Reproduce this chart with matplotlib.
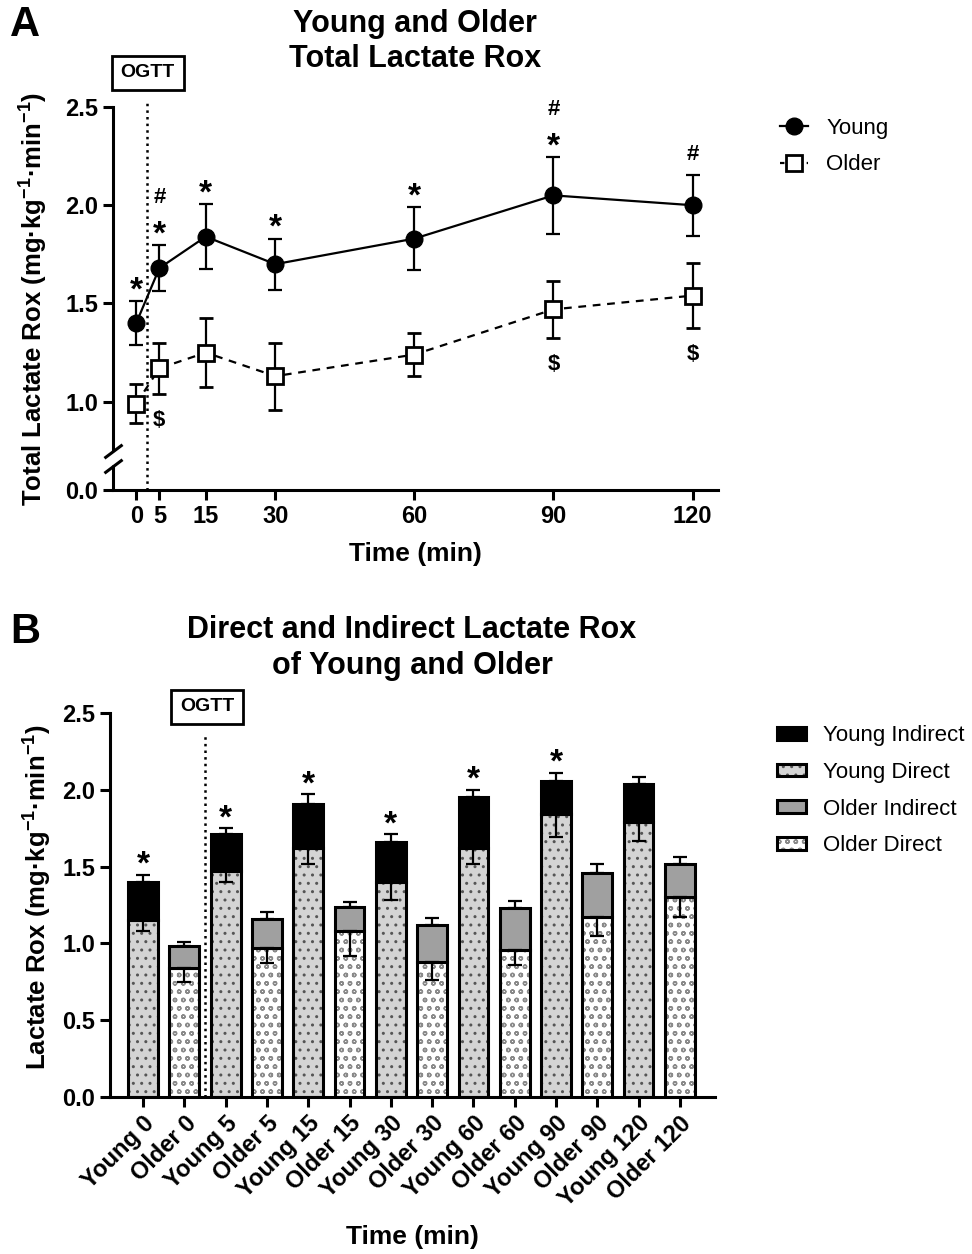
import numpy as np
import matplotlib
matplotlib.use('Agg')
import matplotlib.pyplot as plt
from matplotlib.patches import Patch
from matplotlib.lines import Line2D
from matplotlib.legend_handler import HandlerTuple
import matplotlib.transforms as mtransforms

plt.rcParams['font.family'] = ['Liberation Sans', 'DejaVu Sans']
plt.rcParams['mathtext.fontset'] = 'custom'
plt.rcParams['mathtext.rm'] = 'Liberation Sans:bold'
plt.rcParams['mathtext.bf'] = 'Liberation Sans:bold'
plt.rcParams['mathtext.default'] = 'bf'
plt.rcParams['hatch.linewidth'] = 1.0

# ---- panel A data: total lactate Rox ----
times = [0, 5, 15, 30, 60, 90, 120]
young_total = [1.40, 1.68, 1.84, 1.70, 1.83, 2.05, 2.00]
young_sem = [0.11, 0.115, 0.165, 0.13, 0.16, 0.195, 0.155]
older_total = [0.99, 1.17, 1.25, 1.13, 1.24, 1.47, 1.54]
older_sem = [0.10, 0.13, 0.175, 0.17, 0.11, 0.145, 0.167]
young_star = [1, 1, 1, 1, 1, 1, 0]
young_hash = [0, 1, 0, 0, 0, 1, 1]
older_dollar = [0, 1, 0, 0, 0, 1, 1]

# ---- panel B data: direct / indirect ----
bar_labels = ['Young 0', 'Older 0', 'Young 5', 'Older 5', 'Young 15', 'Older 15',
              'Young 30', 'Older 30', 'Young 60', 'Older 60', 'Young 90', 'Older 90',
              'Young 120', 'Older 120']
young_direct = [1.15, 1.47, 1.62, 1.40, 1.62, 1.84, 1.79]
young_indirect = [0.25, 0.24, 0.29, 0.26, 0.33, 0.22, 0.25]
young_total_err = [0.045, 0.04, 0.06, 0.05, 0.05, 0.05, 0.045]
young_direct_err = [0.07, 0.07, 0.10, 0.12, 0.10, 0.15, 0.12]
older_direct = [0.84, 0.97, 1.08, 0.88, 0.96, 1.17, 1.30]
older_indirect = [0.14, 0.19, 0.16, 0.24, 0.27, 0.29, 0.22]
older_total_err = [0.03, 0.045, 0.03, 0.045, 0.045, 0.055, 0.045]
older_direct_err = [0.09, 0.10, 0.16, 0.12, 0.10, 0.12, 0.13]
bar_star = [1, 1, 1, 1, 1, 1, 0]

LW = 2.2
PX = 72 / 100.0  # points per pixel
glyph_mid = {'*': 0.57, '#': 0.36, '$': 0.36}


def mark(ax, x, y, s, dy_px, fs):
    # place glyph so that its ink centre sits dy_px pixels from (x, y)
    off = dy_px * PX - glyph_mid[s] * fs
    ax.annotate(s, xy=(x, y), xytext=(0, off), textcoords='offset points',
                ha='center', va='baseline', fontsize=fs, fontweight='bold')


def style_axis(ax):
    for s in ['top', 'right']:
        ax.spines[s].set_visible(False)
    for s in ['left', 'bottom']:
        ax.spines[s].set_linewidth(LW)
    ax.tick_params(width=LW, length=7, labelsize=17)
    for lab in ax.get_xticklabels() + ax.get_yticklabels():
        lab.set_fontweight('bold')


fig = plt.figure(figsize=(9.72, 12.54), dpi=100)

# ================= Panel A =================
axA = fig.add_axes([0.1163, 0.6093, 0.6224, 0.3054])
f0, cut = 0.551, 0.75


def fwd(y):
    y = np.asarray(y, float)
    return np.where(y < cut, f0 + y * (cut - f0) / cut, y)


def inv(f):
    f = np.asarray(f, float)
    return np.where(f < cut, (f - f0) * cut / (cut - f0), f)


axA.set_yscale('function', functions=(fwd, inv))
axA.set_ylim(0, 2.5)
axA.set_xlim(-5, 125.5)
axA.set_yticks([0, 1.0, 1.5, 2.0, 2.5])
axA.set_yticklabels(['0.0', '1.0', '1.5', '2.0', '2.5'])
axA.yaxis.set_minor_locator(matplotlib.ticker.NullLocator())
axA.set_xticks(times)

axA.errorbar(times, young_total, yerr=young_sem, color='k', lw=1.6, marker='o', ms=12,
             elinewidth=1.6, capsize=5, capthick=1.6, zorder=3)
axA.errorbar(times, older_total, yerr=older_sem, color='k', lw=1.6, ls=(0, (3.5, 3)),
             marker='s', ms=11, mfc='white', mec='k', mew=2, elinewidth=1.6,
             capsize=5, capthick=1.6, zorder=3)

for t, v, e, s, h in zip(times, young_total, young_sem, young_star, young_hash):
    top = v + e
    if s:
        mark(axA, t, top, '*', 21, 24)
        if h:
            mark(axA, t, top, '#', 50, 16)
    elif h:
        mark(axA, t, top, '#', 23, 16)
for t, v, e, d in zip(times, older_total, older_sem, older_dollar):
    if d:
        mark(axA, t, v - e, '$', -24, 16)

# OGTT marker line and box
axA.plot([2.4, 2.4], [0, 2.53], ls=':', color='k', lw=1.8, clip_on=False, zorder=1)
trA = mtransforms.blended_transform_factory(axA.transData, axA.transAxes)
axA.text(2.5, 1.089, 'OGTT', transform=trA, ha='center', va='center', fontsize=14,
         fontweight='bold', bbox=dict(boxstyle='square,pad=0.45', fc='white', ec='k', lw=2))

style_axis(axA)
# broken y axis
axA.spines['left'].set_bounds(0.755, 2.5)
trY = mtransforms.blended_transform_factory(axA.transAxes, axA.transData)
axA.plot([0, 0], [0, 0.47], transform=trY, color='k', lw=LW, clip_on=False,
         solid_capstyle='butt')
axA.plot([0, 0], [0.75, 0.465], transform=trY, ls='none', marker=[(-1, -0.75), (1, 0.75)],
         ms=13, mec='k', mew=LW, clip_on=False)

axA.set_xlabel('Time (min)', fontsize=19, fontweight='bold')
axA.xaxis.set_label_coords(0.5, -0.135)
axA.set_ylabel('Total Lactate Rox (mg·kg$^{-1}$·min$^{-1}$)', fontsize=18.5, fontweight='bold')
axA.yaxis.set_label_coords(-0.105, 0.5)

handlesA = [Line2D([], [], color='k', lw=1.6, marker='o', ms=12),
            Line2D([], [], color='k', lw=1.6, ls=(0, (2, 2)), marker='s', ms=11,
                   mfc='white', mew=2)]
fig.legend(handlesA, ['Young', 'Older'], loc='upper left', bbox_to_anchor=(0.802, 0.906),
           frameon=False, fontsize=16, handlelength=1.3, handletextpad=0.8,
           labelspacing=0.7, borderpad=0, borderaxespad=0)

fig.text(0.0257, 0.980, 'A', fontsize=30, fontweight='bold', ha='center', va='center')
fig.text(415 / 972, 0.967, 'Young and Older\nTotal Lactate Rox', fontsize=22,
         fontweight='bold', ha='center', va='center', linespacing=1.25)

# ================= Panel B =================
axB = fig.add_axes([0.1132, 0.1252, 0.6224, 0.3062])
xs = np.arange(len(bar_labels))
xy_ = xs[0::2]
xo_ = xs[1::2]
w = 0.72
y_dir_c, y_dir_h = '#d4d4d4', '#555555'
o_dir_c, o_dir_h = 'white', '#8a8a8a'
o_ind_c = '#a0a0a0'

young_tot_b = np.add(young_direct, young_indirect)
older_tot_b = np.add(older_direct, older_indirect)

axB.bar(xy_, young_direct, w, color=y_dir_c, edgecolor=y_dir_h, lw=0, hatch='..', zorder=2)
axB.bar(xy_, young_direct, w, fill=False, edgecolor='k', lw=LW, zorder=2)
axB.bar(xy_, young_indirect, w, bottom=young_direct, color='k', edgecolor='k', lw=LW, zorder=2)
axB.bar(xo_, older_direct, w, color=o_dir_c, edgecolor=o_dir_h, lw=0, hatch='oo', zorder=2)
axB.bar(xo_, older_direct, w, fill=False, edgecolor='k', lw=LW, zorder=2)
axB.bar(xo_, older_indirect, w, bottom=older_direct, color=o_ind_c, edgecolor='k', lw=LW, zorder=2)

z7 = np.zeros(7)
eb = dict(fmt='none', ecolor='k', elinewidth=1.6, capsize=5, capthick=1.6, zorder=3)
axB.errorbar(xy_, young_tot_b, yerr=[z7, young_total_err], **eb)
axB.errorbar(xy_, young_direct, yerr=[young_direct_err, z7], **eb)
axB.errorbar(xo_, older_tot_b, yerr=[z7, older_total_err], **eb)
axB.errorbar(xo_, older_direct, yerr=[older_direct_err, z7], **eb)

for x, v, e, s in zip(xy_, young_tot_b, young_total_err, bar_star):
    if s:
        mark(axB, x, v + e, '*', 20, 24)

axB.plot([1.5, 1.5], [0, 2.37], ls=':', color='k', lw=1.8, zorder=1)
trB = mtransforms.blended_transform_factory(axB.transData, axB.transAxes)
axB.text(1.55, 1.016, 'OGTT', transform=trB, ha='center', va='center', fontsize=14,
         fontweight='bold', bbox=dict(boxstyle='square,pad=0.45', fc='white', ec='k', lw=2))

axB.set_xlim(-0.8, 13.85)
axB.set_ylim(0, 2.5)
axB.set_yticks([0, 0.5, 1.0, 1.5, 2.0, 2.5])
axB.set_yticklabels(['0.0', '0.5', '1.0', '1.5', '2.0', '2.5'])
axB.set_xticks(xs)
axB.set_xticklabels(bar_labels, rotation=45, ha='right', rotation_mode='anchor')
style_axis(axB)
axB.set_xlabel('Time (min)', fontsize=19, fontweight='bold')
axB.xaxis.set_label_coords(0.5, -0.333)
axB.set_ylabel('Lactate Rox (mg·kg$^{-1}$·min$^{-1}$)', fontsize=18.5, fontweight='bold')
axB.yaxis.set_label_coords(-0.092, 0.52)

handlesB = [Patch(fc='k', ec='k', lw=LW),
            (Patch(fc=y_dir_c, ec=y_dir_h, lw=0, hatch='..'), Patch(fill=False, ec='k', lw=LW)),
            Patch(fc=o_ind_c, ec='k', lw=LW),
            (Patch(fc=o_dir_c, ec=o_dir_h, lw=0, hatch='oo'), Patch(fill=False, ec='k', lw=LW))]
fig.legend(handlesB, ['Young Indirect', 'Young Direct', 'Older Indirect', 'Older Direct'],
           handler_map={tuple: HandlerTuple(ndivide=1, pad=0)},
           loc='upper left', bbox_to_anchor=(0.799, 0.4215), frameon=False, fontsize=16,
           handlelength=1.3, handleheight=0.5, handletextpad=0.8, labelspacing=0.7,
           borderpad=0, borderaxespad=0)

fig.text(0.0257, 0.496, 'B', fontsize=30, fontweight='bold', ha='center', va='center')
fig.text(412 / 972, 0.483, 'Direct and Indirect Lactate Rox\nof Young and Older', fontsize=22,
         fontweight='bold', ha='center', va='center', linespacing=1.25)

fig.savefig('out.png', dpi=100)
